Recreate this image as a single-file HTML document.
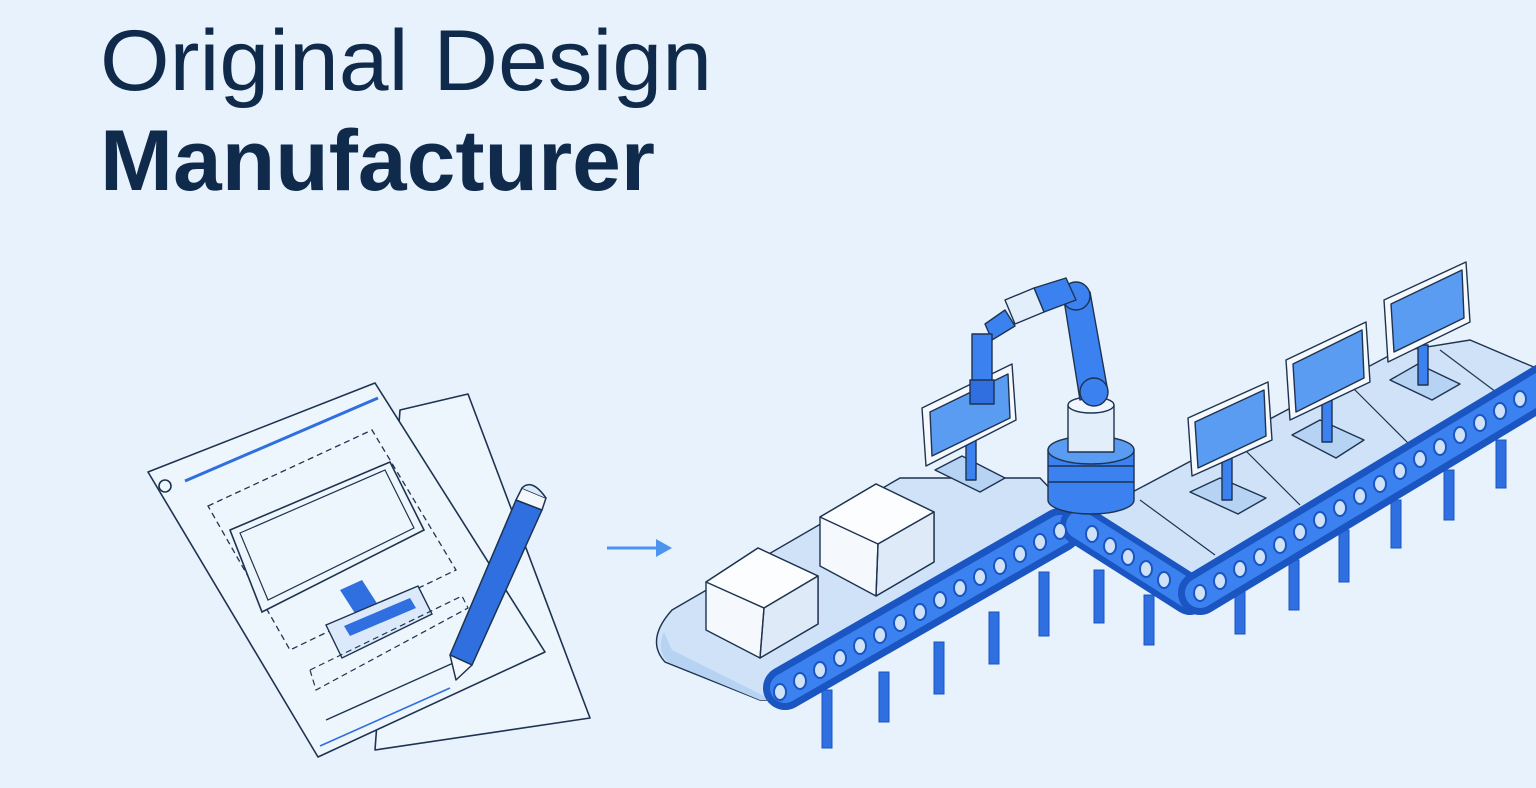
<!DOCTYPE html>
<html><head><meta charset="utf-8"><style>
html,body{margin:0;padding:0;background:#e7f2fc;}
svg{display:block}
</style></head><body>
<svg width="1536" height="788" viewBox="0 0 1536 788" xmlns="http://www.w3.org/2000/svg">
<rect width="1536" height="788" fill="#e7f2fc"/>
<text x="100" y="90" font-family="Liberation Sans, sans-serif" font-size="86" fill="#0f2a4a" textLength="612" lengthAdjust="spacingAndGlyphs">Original Design</text>
<text x="100" y="190" font-family="Liberation Sans, sans-serif" font-weight="bold" font-size="86" fill="#0f2a4a" textLength="555" lengthAdjust="spacingAndGlyphs">Manufacturer</text>

<!-- document -->
<g stroke="#1e3350" stroke-width="1.6" fill="#eef6fd" stroke-linejoin="round">
<polygon points="400,410 468,394 590,718 375,750"/>
<polygon points="148,472 375,383 545,652 318,757"/>
</g>
<circle cx="165" cy="486" r="6" fill="none" stroke="#1e3350" stroke-width="1.6"/>
<line x1="185" y1="481" x2="378" y2="398" stroke="#2f6fe0" stroke-width="3"/>
<polygon points="208,506 372,430 456,570 290,650" fill="none" stroke="#1e3350" stroke-width="1.3" stroke-dasharray="6,4"/>
<polygon points="230,530 390,462 424,530 262,612" fill="#eef6fd" stroke="#1e3350" stroke-width="1.6"/>
<polygon points="240,533 385,470 414,528 268,600" fill="none" stroke="#1e3350" stroke-width="1.2"/>
<polygon points="340,590 362,580 380,608 358,618" fill="#2f6fe0"/>
<polygon points="326,625 418,586 432,614 342,658" fill="#dbe9fb" stroke="#1e3350" stroke-width="1.4"/>
<polygon points="344,626 410,598 416,608 350,636" fill="#2f6fe0"/>
<polygon points="310,670 462,596 468,608 316,690" fill="none" stroke="#1e3350" stroke-width="1.2" stroke-dasharray="6,4"/>
<line x1="326" y1="720" x2="460" y2="660" stroke="#1e3350" stroke-width="1.4"/>
<line x1="320" y1="746" x2="450" y2="688" stroke="#2f6fe0" stroke-width="1.6"/>
<!-- pencil -->
<g stroke="#1e3350" stroke-width="1.5" stroke-linejoin="round">
<polygon points="516,500 542,510 472,665 450,655" fill="#2f6fe0"/>
<polygon points="450,655 472,665 456,680" fill="#f4f8fd"/>
<polygon points="516,500 542,510 546,498 522,488" fill="#f4f8fd"/>
<path d="M522,488 Q532,478 546,498" fill="#dbe9fb"/>
</g>
<!-- arrow -->
<line x1="607" y1="548" x2="662" y2="548" stroke="#4d93f0" stroke-width="3"/>
<polygon points="672,548 656,539 656,557" fill="#4d93f0"/>

<!-- legs -->
<g fill="#2f6fe0" stroke="#1a55c2" stroke-width="1">
<rect x="822" y="690" width="10" height="58"/><rect x="879" y="672" width="10" height="50"/>
<rect x="934" y="642" width="10" height="52"/><rect x="989" y="612" width="10" height="52"/>
<rect x="1039" y="572" width="10" height="64"/><rect x="1094" y="570" width="10" height="53"/>
<rect x="1144" y="595" width="10" height="50"/><rect x="1235" y="588" width="10" height="46"/>
<rect x="1289" y="560" width="10" height="50"/><rect x="1339" y="530" width="10" height="52"/>
<rect x="1391" y="500" width="10" height="48"/><rect x="1444" y="470" width="10" height="50"/>
<rect x="1496" y="440" width="10" height="48"/>
</g>

<!-- conveyor 1 surface -->
<path d="M672,610 L900,478 L1040,478 L1080,520 L790,700 L760,700 L665,662 Q645,640 672,610 Z" fill="#cfe2f8" stroke="#1e3350" stroke-width="1.4"/>
<path d="M664,632 Q656,650 668,662 L760,700 L772,700 L672,650 Z" fill="#b7d3f4"/>
<!-- conveyor 2 surface -->
<polygon points="1080,520 1140,488 1396,352 1470,340 1536,368 1536,385 1200,600 1185,598" fill="#cfe2f8" stroke="#1e3350" stroke-width="1.4"/>
<g stroke="#1e3350" stroke-width="1.2">
<line x1="1140" y1="500" x2="1215" y2="555"/><line x1="1240" y1="445" x2="1300" y2="505"/>
<line x1="1350" y1="385" x2="1410" y2="445"/><line x1="1440" y1="350" x2="1500" y2="395"/>
</g>
<!-- belts -->
<g stroke-linecap="round" fill="none">
<line x1="785" y1="688" x2="1060" y2="530" stroke="#1a55c2" stroke-width="44"/>
<line x1="785" y1="688" x2="1060" y2="530" stroke="#3b82f0" stroke-width="30"/>
<line x1="1080" y1="525" x2="1190" y2="595" stroke="#1a55c2" stroke-width="40"/>
<line x1="1080" y1="525" x2="1190" y2="595" stroke="#3b82f0" stroke-width="28"/>
<line x1="1200" y1="593" x2="1545" y2="385" stroke="#1a55c2" stroke-width="44"/>
<line x1="1200" y1="593" x2="1545" y2="385" stroke="#3b82f0" stroke-width="30"/>
</g>
<g fill="#cfe2f8" stroke="#1a55c2" stroke-width="2">
<ellipse cx="780" cy="692" rx="6" ry="8"/><ellipse cx="800" cy="681" rx="6" ry="8"/><ellipse cx="820" cy="670" rx="6" ry="8"/><ellipse cx="840" cy="658" rx="6" ry="8"/><ellipse cx="860" cy="646" rx="6" ry="8"/><ellipse cx="880" cy="635" rx="6" ry="8"/><ellipse cx="900" cy="623" rx="6" ry="8"/><ellipse cx="920" cy="612" rx="6" ry="8"/><ellipse cx="940" cy="600" rx="6" ry="8"/><ellipse cx="960" cy="588" rx="6" ry="8"/><ellipse cx="980" cy="577" rx="6" ry="8"/><ellipse cx="1000" cy="566" rx="6" ry="8"/><ellipse cx="1020" cy="554" rx="6" ry="8"/><ellipse cx="1040" cy="542" rx="6" ry="8"/><ellipse cx="1060" cy="531" rx="6" ry="8"/>
<ellipse cx="1092" cy="534" rx="6" ry="8"/><ellipse cx="1110" cy="546" rx="6" ry="8"/><ellipse cx="1128" cy="557" rx="6" ry="8"/><ellipse cx="1146" cy="569" rx="6" ry="8"/><ellipse cx="1164" cy="580" rx="6" ry="8"/>
<ellipse cx="1200" cy="593" rx="6" ry="8"/><ellipse cx="1220" cy="581" rx="6" ry="8"/><ellipse cx="1240" cy="569" rx="6" ry="8"/><ellipse cx="1260" cy="557" rx="6" ry="8"/><ellipse cx="1280" cy="545" rx="6" ry="8"/><ellipse cx="1300" cy="532" rx="6" ry="8"/><ellipse cx="1320" cy="520" rx="6" ry="8"/><ellipse cx="1340" cy="508" rx="6" ry="8"/><ellipse cx="1360" cy="496" rx="6" ry="8"/><ellipse cx="1380" cy="484" rx="6" ry="8"/><ellipse cx="1400" cy="471" rx="6" ry="8"/><ellipse cx="1420" cy="459" rx="6" ry="8"/><ellipse cx="1440" cy="447" rx="6" ry="8"/><ellipse cx="1460" cy="435" rx="6" ry="8"/><ellipse cx="1480" cy="423" rx="6" ry="8"/><ellipse cx="1500" cy="411" rx="6" ry="8"/><ellipse cx="1520" cy="399" rx="6" ry="8"/>
</g>

<!-- boxes -->
<g stroke="#1e3350" stroke-width="1.4" stroke-linejoin="round">
<polygon points="706,582 758,548 818,576 818,624 760,658 706,630" fill="#f5f9fe"/>
<polygon points="706,582 758,548 818,576 764,608" fill="#fbfdff"/>
<polygon points="764,608 818,576 818,624 760,658" fill="#dfeaf8"/>
<line x1="764" y1="608" x2="760" y2="658"/>
<polygon points="820,517 876,484 934,512 934,562 876,596 820,566" fill="#f5f9fe"/>
<polygon points="820,517 876,484 934,512 878,544" fill="#fbfdff"/>
<polygon points="878,544 934,512 934,562 876,596" fill="#dfeaf8"/>
<line x1="878" y1="544" x2="876" y2="596"/>
</g>

<!-- monitors -->
<g stroke="#1e3350" stroke-width="1.4" stroke-linejoin="round">
<polygon points="935,470 980,492 1005,478 962,456" fill="#b7d3f4"/>
<rect x="966" y="440" width="10" height="40" fill="#3b82f0"/>
<polygon points="922,408 1012,364 1016,420 926,466" fill="#f5f9fe"/>
<polygon points="930,412 1008,374 1010,418 932,456" fill="#5b9cf3"/>

<polygon points="1190,492 1238,514 1266,498 1220,478" fill="#b7d3f4"/>
<rect x="1222" y="455" width="10" height="45" fill="#3b82f0"/>
<polygon points="1188,418 1268,382 1272,440 1192,476" fill="#f5f9fe"/>
<polygon points="1195,422 1264,390 1266,436 1198,468" fill="#5b9cf3"/>

<polygon points="1292,435 1336,458 1364,440 1320,420" fill="#b7d3f4"/>
<rect x="1322" y="400" width="10" height="42" fill="#3b82f0"/>
<polygon points="1286,360 1366,322 1370,382 1290,420" fill="#f5f9fe"/>
<polygon points="1293,364 1362,330 1364,378 1296,412" fill="#5b9cf3"/>

<polygon points="1390,380 1432,400 1460,384 1418,364" fill="#b7d3f4"/>
<rect x="1418" y="345" width="10" height="40" fill="#3b82f0"/>
<polygon points="1384,300 1466,262 1470,322 1388,362" fill="#f5f9fe"/>
<polygon points="1391,304 1462,270 1464,318 1394,352" fill="#5b9cf3"/>
</g>

<!-- robot -->
<g stroke="#1e3350" stroke-width="1.4" stroke-linejoin="round">
<path d="M1048,450 L1048,500 A43,14 0 0 0 1134,500 L1134,450 Z" fill="#3b82f0"/>
<line x1="1048" y1="466" x2="1134" y2="466"/><line x1="1048" y1="482" x2="1134" y2="482"/>
<ellipse cx="1091" cy="450" rx="43" ry="14" fill="#5b9cf3"/>
<rect x="1068" y="405" width="46" height="47" fill="#e3eefb"/>
<ellipse cx="1091" cy="405" rx="23" ry="8" fill="#f0f6fd"/>
<polygon points="1064,300 1090,292 1108,392 1080,400" fill="#3b82f0"/>
<circle cx="1094" cy="392" r="14" fill="#3b82f0"/>
<circle cx="1076" cy="296" r="14" fill="#3b82f0"/>
<polygon points="1034,288 1066,278 1076,300 1044,312" fill="#3b82f0"/>
<polygon points="1005,300 1034,288 1044,312 1015,324" fill="#e3eefb"/>
<polygon points="985,324 1005,310 1015,326 992,340" fill="#3b82f0"/>
<rect x="972" y="334" width="20" height="50" fill="#3b82f0"/>
<rect x="970" y="380" width="24" height="24" fill="#2f6fe0"/>
</g>
</svg>
</body></html>
